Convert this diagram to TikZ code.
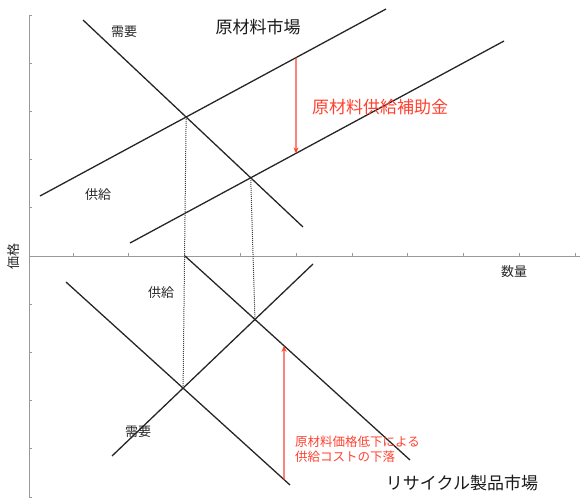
\documentclass[tikz,border=0pt]{standalone}
\usepackage{fontspec}
\setmainfont{Noto Sans CJK JP}
\usetikzlibrary{positioning, arrows.meta, calc}
\definecolor{subsidyred}{RGB}{255,66,48}
\tikzset{
  axis/.style={draw=gray!80, line width=0.9pt},
  curve/.style={draw=black!85, line width=1.3pt},
  guide/.style={draw=black!75, densely dotted, line width=1pt},
  shiftarrow/.style={draw=subsidyred, line width=1.1pt, -{Stealth[length=6pt, width=5pt]}},
  tag/.style={text=black!85, font=\fontsize{13}{15}\selectfont, inner sep=0pt},
  market/.style={text=black!90, font=\fontsize{17}{20}\selectfont, inner sep=0pt},
  redtag/.style={text=subsidyred, inner sep=0pt}
}

\begin{document}
\begin{tikzpicture}[x=1pt, y=-1pt]
  \useasboundingbox (0,0) rectangle (582,499);

  % axes
  \coordinate (o) at (29,256);
  \coordinate (ytop) at (29,15);
  \coordinate (ybot) at (29,497);
  \coordinate (xend) at (580,256);
  \draw [axis] (ytop) -- (ybot);
  \draw [axis] (o) -- (xend);
  \foreach \k in {0,...,9}
    \draw [axis] ($(73,256)+(\k*55.8,0)$) -- ++(0,-3);
  \foreach \k in {1,...,5} {
    \draw [axis] ($(o)+(0,-\k*48.2)$) -- ++(3,0);
    \draw [axis] ($(o)+(0,\k*48.2)$) -- ++(3,0);
  }

  % upper market: raw material
  \coordinate (d1a) at (83,20);   \coordinate (d1b) at (303,227);
  \coordinate (s1a) at (40,196);  \coordinate (s1b) at (386,9);
  \coordinate (s2a) at (130,243); \coordinate (s2b) at (504,41);
  \draw [curve] (d1a) -- (d1b);
  \draw [curve] (s1a) -- (s1b);
  \draw [curve] (s2a) -- (s2b);
  \coordinate (e1) at (intersection of d1a--d1b and s1a--s1b);
  \coordinate (e2) at (intersection of d1a--d1b and s2a--s2b);

  % lower market: recycled products
  \coordinate (r1a) at (185,256); \coordinate (r1b) at (410,460);
  \coordinate (r0a) at (66,282);  \coordinate (r0b) at (290,485);
  \coordinate (dra) at (112,456); \coordinate (drb) at (313,264);
  \draw [curve] (r1a) -- (r1b);
  \draw [curve] (r0a) -- (r0b);
  \draw [curve] (dra) -- (drb);
  \coordinate (l1) at (intersection of dra--drb and r0a--r0b);
  \coordinate (l2) at (intersection of dra--drb and r1a--r1b);

  % dotted guides between the markets
  \draw [guide] (e1) -- (l1);
  \draw [guide] (e2) -- (l2);

  % shifts
  \coordinate (up1) at (intersection of s1a--s1b and 296,0--296,499);
  \coordinate (up2) at (intersection of s2a--s2b and 296,0--296,499);
  \draw [shiftarrow] (up1) -- (up2);
  \coordinate (lo1) at (intersection of r0a--r0b and 284,0--284,499);
  \coordinate (lo2) at (intersection of r1a--r1b and 284,0--284,499);
  \draw [shiftarrow] (lo1) -- (lo2);

  % labels
  \node (rawmkt) [market] at (258,27) {原材料市場};
  \node (recmkt) [market] at (462,483) {リサイクル製品市場};
  \node (demup) [tag] at (124,32) {需要};
  \node (supup) [tag] at (98,195) {供給};
  \node (suplo) [tag] at (161,293) {供給};
  \node (demlo) [tag] at (138,432) {需要};
  \node (qty) [tag] at (514,272) {数量};
  \node (price) [tag, rotate=90] at (14,256) {価格};
  \node (subsidy) [redtag, anchor=west, font=\fontsize{17}{20}\selectfont] at (312,107) {原材料供給補助金};
  \node (costdrop) [redtag, anchor=west, align=left, font=\fontsize{12.5}{15}\selectfont] at (295,449.5) {原材料価格低下による\\供給コストの下落};
\end{tikzpicture}
\end{document}
